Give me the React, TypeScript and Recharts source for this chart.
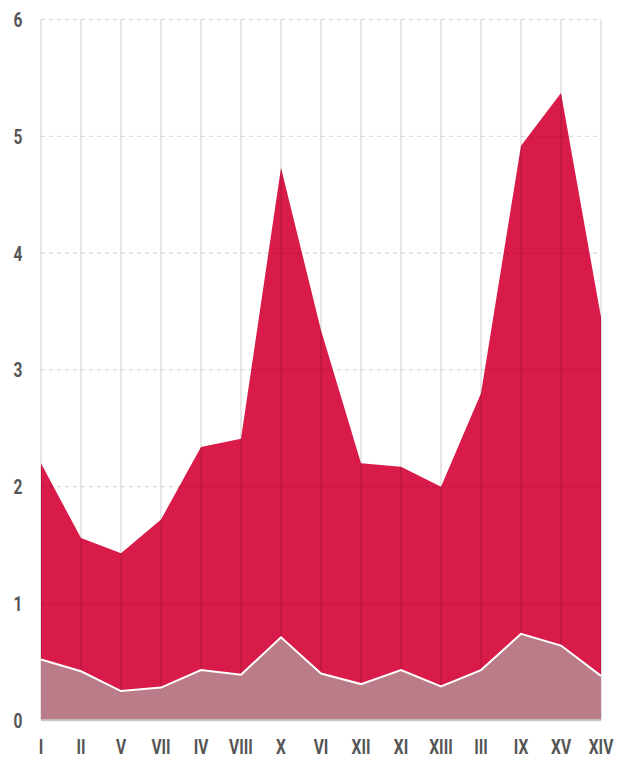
import React from "react";
import { AreaChart, Area, XAxis, YAxis, CartesianGrid } from "recharts";

const categories = ["I", "II", "V", "VII", "IV", "VIII", "X", "VI", "XII", "XI", "XIII", "III", "IX", "XV", "XIV"];
const totalValues = [2.2, 1.56, 1.43, 1.72, 2.34, 2.41, 4.73, 3.34, 2.2, 2.17, 2.0, 2.8, 4.92, 5.37, 3.45];
const lowerValues = [0.52, 0.42, 0.25, 0.28, 0.43, 0.39, 0.71, 0.4, 0.31, 0.43, 0.29, 0.43, 0.74, 0.64, 0.38];
const yTicks = [0, 1, 2, 3, 4, 5, 6];

const data = categories.map((c, i) => ({ name: c, total: totalValues[i], lower: lowerValues[i] }));

const FONT = "Roboto, 'DejaVu Sans Condensed', sans-serif";

const XTick = (props: any) => {
  const { x, payload } = props;
  return (
    <text
      transform={`translate(${x},754) scale(0.74,1)`}
      x={0}
      y={0}
      textAnchor="middle"
      fill="#555"
      fontFamily={FONT}
      fontWeight="bold"
      fontSize={21}
    >
      {payload.value}
    </text>
  );
};

const YTick = (props: any) => {
  const { y, payload } = props;
  return (
    <text
      transform={`translate(18,${y + 7.5}) scale(0.74,1)`}
      x={0}
      y={0}
      textAnchor="middle"
      fill="#555"
      fontFamily={FONT}
      fontWeight="bold"
      fontSize={21}
    >
      {payload.value}
    </text>
  );
};

export default function App() {
  return (
    <div style={{ position: "absolute", left: 0, top: 0, width: 618, height: 758, background: "#fff" }}>
      <AreaChart width={618} height={758} data={data} margin={{ top: 19.5, right: 17, bottom: 0, left: 0 }}>
        <XAxis
          dataKey="name"
          height={37.7}
          tick={<XTick />}
          tickLine={false}
          axisLine={{ stroke: "#cccccc", strokeWidth: 2 }}
          interval={0}
        />
        <YAxis
          width={41}
          domain={[0, 6]}
          ticks={yTicks}
          tick={<YTick />}
          tickLine={false}
          axisLine={false}
          interval={0}
        />
        <Area
          type="linear"
          dataKey="total"
          stroke="none"
          fill="#d91b4a"
          fillOpacity={1}
          isAnimationActive={false}
          dot={false}
          activeDot={false}
          zIndex={100}
        />
        <CartesianGrid
          horizontal={true}
          vertical={false}
          stroke="#000"
          strokeOpacity={0.18}
          strokeDasharray="4 4"
          zIndex={150}
        />
        <CartesianGrid
          horizontal={false}
          vertical={true}
          stroke="#000"
          strokeOpacity={0.2}
          zIndex={150}
        />
        <Area
          type="linear"
          dataKey="lower"
          stroke="#ffffff"
          strokeWidth={2}
          fill="#b97c88"
          fillOpacity={1}
          isAnimationActive={false}
          dot={false}
          activeDot={false}
          zIndex={200}
        />
      </AreaChart>
    </div>
  );
}
